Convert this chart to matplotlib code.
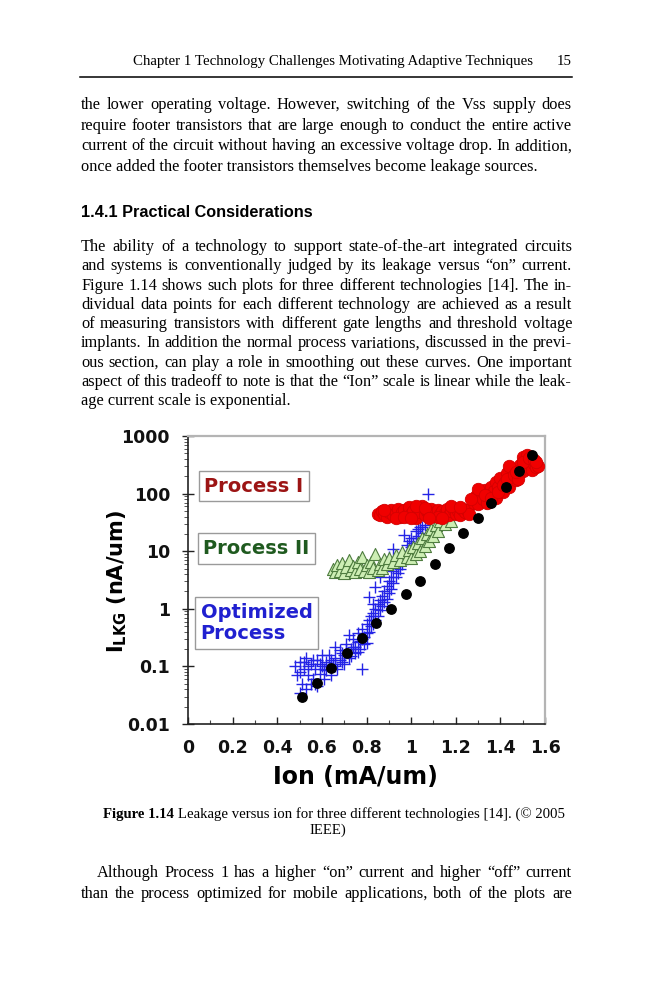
import matplotlib
matplotlib.use('Agg')
import matplotlib.pyplot as plt
from matplotlib.ticker import FixedLocator, LogLocator, MultipleLocator, NullFormatter

W, H, DPI = 659, 1000, 100

# ---------------- data ----------------
ref_ion = [0.51, 0.578, 0.642, 0.711, 0.78, 0.842, 0.91, 0.976, 1.04, 1.107,
           1.17, 1.234, 1.298, 1.36, 1.423, 1.484, 1.543]
ref_ilkg = [0.029, 0.052, 0.093, 0.169, 0.31, 0.56, 0.98, 1.81, 3.08, 6.0,
            11.2, 20.5, 38, 70, 132, 250, 468]

p1_ion = [0.85, 0.86, 0.87, 0.88, 0.89, 0.90, 0.91, 0.92, 0.93, 0.94,
          0.95, 0.96, 0.97, 0.98, 0.99, 1.00, 1.01, 1.02, 1.03, 1.04,
          1.05, 1.06, 1.07, 1.08, 1.09, 1.10, 1.11, 1.12, 1.13, 1.14,
          1.15, 1.16, 1.17, 1.18, 1.19, 1.20, 1.21, 1.22, 1.23, 1.24,
          1.25, 1.26,
          0.88, 0.93, 0.97, 1.02, 1.06, 1.12, 1.18, 1.22, 1.00, 1.08, 1.14,
          1.28, 1.29, 1.30, 1.31, 1.32, 1.33, 1.34, 1.35, 1.36, 1.37, 1.38,
          1.38, 1.39, 1.40, 1.41, 1.42, 1.43, 1.44, 1.45, 1.46, 1.47,
          1.48, 1.49, 1.50, 1.51, 1.52, 1.53, 1.54, 1.55, 1.56, 1.57,
          1.50, 1.52,
          1.27, 1.30, 1.33, 1.36, 1.39, 1.41, 1.43, 1.44, 1.46, 1.48,
          1.49, 1.50, 1.53, 1.55, 1.56, 1.47]
p1_ilkg = [45, 42, 50, 44, 40, 48, 52, 43, 46, 55,
           40, 47, 52, 42, 58, 45, 50, 38, 55, 47,
           62, 43, 50, 45, 54, 41, 48, 52, 44, 50,
           46, 55, 43, 49, 52, 45, 50, 42, 55, 47,
           52, 44,
           52, 38, 40, 60, 57, 40, 60, 58, 37, 38, 38,
           70, 90, 65, 100, 80, 115, 70, 95, 130, 110, 160,
           85, 130, 190, 105, 160, 230, 130, 200, 260, 170,
           220, 320, 250, 400, 300, 360, 260, 330, 290, 300,
           440, 460,
           80, 120, 95, 85, 105, 140, 180, 300, 210, 180,
           260, 360, 420, 380, 350, 240]

p2_ion = [0.65, 0.66, 0.67, 0.68, 0.69, 0.70, 0.71, 0.72, 0.73, 0.74,
          0.75, 0.76, 0.77, 0.78, 0.79, 0.80, 0.81, 0.82, 0.83, 0.84,
          0.85, 0.86, 0.87, 0.88,
          0.89, 0.90, 0.92, 0.93, 0.95, 0.96, 0.98, 0.99, 1.00, 1.01,
          1.02, 1.03, 1.04, 1.05, 1.06, 1.07, 1.08, 1.09, 1.10, 1.11,
          1.12, 1.13, 1.15, 1.16, 1.18, 1.14]
p2_ilkg = [5.0, 4.4, 5.8, 4.6, 6.2, 4.2, 5.3, 7.0, 4.7, 5.6,
           4.3, 6.4, 5.0, 7.8, 4.5, 5.7, 4.3, 6.6, 5.1, 8.8,
           4.7, 5.9, 5.2, 7.2,
           6.0, 7.5, 6.5, 8.5, 7.0, 9.5, 8.0, 10.5, 7.5, 12,
           9.0, 14, 10, 17, 12.5, 20, 15, 24, 18, 28,
           22, 34, 30, 42, 33, 46]

p3_ion = [0.48, 0.49, 0.50, 0.51, 0.52, 0.53, 0.53, 0.54, 0.55, 0.56,
          0.57, 0.58, 0.58, 0.59, 0.60, 0.61, 0.62, 0.62, 0.63, 0.64,
          0.65, 0.66, 0.67, 0.68, 0.69, 0.70, 0.71, 0.72, 0.73, 0.74,
          0.75, 0.76, 0.77, 0.78, 0.78, 0.79, 0.80, 0.81, 0.82, 0.83,
          0.84, 0.85, 0.86, 0.83, 0.87, 0.81, 0.88, 0.84, 0.89, 0.90,
          0.86, 0.91, 0.92, 0.88, 0.93, 0.94, 0.90, 0.95, 0.96, 0.92,
          0.97, 0.98, 0.99, 1.00, 0.97, 1.01, 1.02, 1.03, 1.04, 1.05,
          1.06, 1.076, 0.50, 0.55, 0.72, 0.76, 0.80, 0.60, 0.66,
          0.50, 0.52, 0.54, 0.56, 0.57, 0.59, 0.61, 0.63, 0.64, 0.66,
          0.68, 0.69, 0.70, 0.71, 0.73, 0.74, 0.75, 0.76, 0.77, 0.78,
          0.79, 0.80, 0.81, 0.82, 0.83, 0.84, 0.85, 0.86, 0.87, 0.88,
          0.89, 0.90, 0.91, 0.92, 0.93, 0.94, 0.95, 0.96, 0.98, 0.99,
          1.00, 1.02, 1.03, 1.05]
p3_ilkg = [0.10, 0.07, 0.12, 0.05, 0.09, 0.14, 0.04, 0.07, 0.11, 0.06,
           0.09, 0.13, 0.045, 0.075, 0.10, 0.06, 0.12, 0.085, 0.16, 0.07,
           0.11, 0.14, 0.09, 0.19, 0.12, 0.16, 0.24, 0.14, 0.20, 0.30,
           0.22, 0.38, 0.28, 0.45, 0.09, 0.33, 0.55, 0.40, 0.75, 0.55,
           1.0, 0.75, 1.4, 1.2, 1.1, 1.6, 2.0, 2.4, 1.5, 3.0,
           3.5, 2.2, 4.5, 5.0, 3.5, 6.5, 8.0, 5.0, 9.0, 11,
           7.0, 13, 10, 17, 19, 14, 22, 18, 26, 21,
           28, 100, 0.035, 0.05, 0.35, 0.18, 0.25, 0.16, 0.22,
           0.08, 0.12, 0.10, 0.13, 0.05, 0.11, 0.09, 0.10, 0.13, 0.10,
           0.13, 0.17, 0.11, 0.19, 0.15, 0.22, 0.17, 0.26, 0.20, 0.30,
           0.24, 0.38, 0.65, 0.50, 0.85, 0.65, 1.2, 0.95, 1.7, 1.3,
           2.5, 1.9, 3.5, 2.8, 5.5, 4.2, 8.0, 6.0, 9.0, 15,
           12, 17, 24, 26]

x_ticks = [0, 0.2, 0.4, 0.6, 0.8, 1.0, 1.2, 1.4, 1.6]
x_tick_labels = ['0', '0.2', '0.4', '0.6', '0.8', '1', '1.2', '1.4', '1.6']
y_ticks = [0.01, 0.1, 1, 10, 100, 1000]
y_tick_labels = ['0.01', '0.1', '1', '10', '100', '1000']

header_text = 'Chapter 1 Technology Challenges Motivating Adaptive Techniques'
page_number = '15'
para1 = ['the lower operating voltage. However, switching of the Vss supply does',
         'require footer transistors that are large enough to conduct the entire active',
         'current of the circuit without having an excessive voltage drop. In addition,',
         'once added the footer transistors themselves become leakage sources.']
heading = '1.4.1 Practical Considerations'
para2 = ['The ability of a technology to support state-of-the-art integrated circuits',
         'and systems is conventionally judged by its leakage versus \u201con\u201d current.',
         'Figure 1.14 shows such plots for three different technologies [14]. The in-',
         'dividual data points for each different technology are achieved as a result',
         'of measuring transistors with different gate lengths and threshold voltage',
         'implants. In addition the normal process variations, discussed in the previ-',
         'ous section, can play a role in smoothing out these curves. One important',
         'aspect of this tradeoff to note is that the \u201cIon\u201d scale is linear while the leak-',
         'age current scale is exponential.']
caption_bold = 'Figure 1.14'
caption_rest = 'Leakage versus ion for three different technologies [14]. (\u00a9 2005'
caption_line2 = 'IEEE)'
para3 = ['Although Process 1 has a higher \u201con\u201d current and higher \u201coff\u201d current',
         'than the process optimized for mobile applications, both of the plots are']

# ---------------- figure ----------------
fig = plt.figure(figsize=(W / DPI, H / DPI), dpi=DPI)
fig.patch.set_facecolor('white')
R = fig.canvas.get_renderer()

SERIF = ['Liberation Serif', 'DejaVu Serif']
SANS = ['Liberation Sans', 'DejaVu Sans']


def fx(px):
    return px / W


def fy(py):
    return 1 - py / H


def text_w(s, fs, family, weight='normal'):
    t = fig.text(0, 0, s, fontsize=fs, family=family, weight=weight)
    w = t.get_window_extent(renderer=R).width
    t.remove()
    return w


L_MARG, R_MARG = 81, 572
FS_BODY = 11.8
MIN_GAP = 2.0


def place_line(s, y_base, x0=L_MARG, x1=R_MARG, justify=True):
    fs = FS_BODY
    if not justify:
        fig.text(fx(x0), fy(y_base), s, fontsize=fs, family=SERIF,
                 ha='left', va='baseline')
        return
    words = s.split(' ')
    while True:
        ws = [text_w(w, fs, SERIF) for w in words]
        gap = (x1 - x0 - sum(ws)) / (len(words) - 1)
        if gap >= MIN_GAP or fs < 8:
            break
        fs -= 0.1
    x = x0
    for w, wd in zip(words, ws):
        fig.text(fx(x), fy(y_base), w, fontsize=fs, family=SERIF,
                 ha='left', va='baseline')
        x += wd + gap


# header
fs_head = 10 * 400 / text_w(header_text, 10, SERIF)
fig.text(fx(533), fy(65), header_text, fontsize=fs_head, family=SERIF,
         ha='right', va='baseline')
fig.text(fx(R_MARG), fy(65), page_number, fontsize=fs_head, family=SERIF,
         ha='right', va='baseline')
fig.add_artist(plt.Line2D([fx(80), fx(R_MARG)], [fy(77), fy(77)],
                          color='black', lw=1.1))

# paragraph 1
for i, s in enumerate(para1):
    place_line(s, 109 + 20.6 * i, justify=(i < len(para1) - 1))

# heading
fs_h = 10 * 231 / text_w(heading, 10, SANS, 'bold')
fig.text(fx(L_MARG), fy(217), heading, fontsize=fs_h, family=SANS,
         weight='bold', ha='left', va='baseline')

# paragraph 2
for i, s in enumerate(para2):
    place_line(s, 251 + 19.3 * i, justify=(i < len(para2) - 1))

# caption
cap_x0, cap_x1 = 103, 563
wb10 = text_w(caption_bold, 10, SERIF, 'bold')
wr10 = text_w(caption_rest, 10, SERIF)
sp10 = 10 * DPI / 72 * 0.25
fs_cap = 10 * (cap_x1 - cap_x0) / (wb10 + wr10 + sp10)
wb = text_w(caption_bold, fs_cap, SERIF, 'bold')
sp = fs_cap * DPI / 72 * 0.25
fig.text(fx(cap_x0), fy(818), caption_bold, fontsize=fs_cap, family=SERIF,
         weight='bold', ha='left', va='baseline')
fig.text(fx(cap_x0 + wb + sp), fy(818), caption_rest, fontsize=fs_cap,
         family=SERIF, ha='left', va='baseline')
fig.text(fx(328), fy(834), caption_line2, fontsize=fs_cap, family=SERIF,
         ha='center', va='baseline')

# paragraph 3
place_line(para3[0], 877, x0=97)
place_line(para3[1], 898)

# ---------------- chart ----------------
ax_l, ax_r, ax_t, ax_b = 188, 545, 436, 724
ax = fig.add_axes([fx(ax_l), fy(ax_b), (ax_r - ax_l) / W, (ax_b - ax_t) / H])
ax.set_facecolor('white')

ax.scatter(p3_ion, p3_ilkg, marker='+', s=85, c='#2424e6', linewidths=1.0,
           zorder=2)
ax.scatter(p2_ion, p2_ilkg, marker='^', s=75, facecolor='#cdeeb4',
           edgecolor='#4f7d40', linewidths=0.8, zorder=3)
ax.scatter(p1_ion, p1_ilkg, marker='o', s=80, facecolor='#f00000',
           edgecolor='#d40000', linewidths=0.6, zorder=4)
ax.scatter(ref_ion, ref_ilkg, marker='o', s=46, c='black', zorder=5)

ax.set_yscale('log')
ax.set_xlim(0, 1.6)
ax.set_ylim(0.01, 1000)

ax.yaxis.set_major_locator(FixedLocator(y_ticks))
ax.set_yticklabels(y_tick_labels)
ax.yaxis.set_minor_locator(LogLocator(base=10, subs=[2, 3, 4, 5, 6, 7, 8, 9]))
ax.yaxis.set_minor_formatter(NullFormatter())
ax.xaxis.set_major_locator(FixedLocator(x_ticks))
ax.set_xticklabels(x_tick_labels)
ax.xaxis.set_minor_locator(MultipleLocator(0.1))

for lab in ax.get_xticklabels() + ax.get_yticklabels():
    lab.set_fontfamily('DejaVu Sans')
    lab.set_fontweight('bold')
    lab.set_fontsize(12.5)
    lab.set_color('#111111')

ax.tick_params(axis='y', which='major', direction='inout', length=8,
               width=1, pad=9, color='#222222')
ax.tick_params(axis='y', which='minor', direction='out', length=3,
               width=0.7, color='#555555')
ax.tick_params(axis='x', which='major', direction='in', length=5, width=1,
               pad=11, color='#222222')
ax.tick_params(axis='x', which='minor', direction='in', length=3,
               width=0.8, color='#444444')

for side in ('left', 'bottom'):
    ax.spines[side].set_color('#222222')
    ax.spines[side].set_linewidth(1.2)
for side in ('top', 'right'):
    ax.spines[side].set_color('#b4b4b4')
    ax.spines[side].set_linewidth(1.6)

ax.set_xlabel('Ion (mA/um)', fontsize=17, fontweight='bold',
              family='DejaVu Sans', va='center')
ax.xaxis.set_label_coords((355 - ax_l) / (ax_r - ax_l), (ax_b - 777) / (ax_b - ax_t))
ax.set_ylabel('I$_{\\mathbf{LKG}}$ (nA/um)', fontsize=15, fontweight='bold',
              family='DejaVu Sans', va='center', ha='center')
ax.yaxis.set_label_coords((117 - ax_l) / (ax_r - ax_l), (ax_b - 581) / (ax_b - ax_t))


def ax_xy(px, py):
    return (px - ax_l) / (ax_r - ax_l), (ax_b - py) / (ax_b - ax_t)


box_kw = dict(boxstyle='square,pad=0.3', facecolor='white',
              edgecolor='#9a9a9a', linewidth=1.0)
ax.text(*ax_xy(254, 486), 'Process I', transform=ax.transAxes,
        fontsize=14, fontweight='bold', family='DejaVu Sans',
        color='#9c1414', ha='center', va='center', bbox=box_kw, zorder=6)
ax.text(*ax_xy(256.5, 548.5), 'Process II', transform=ax.transAxes,
        fontsize=14, fontweight='bold', family='DejaVu Sans',
        color='#1f5a1f', ha='center', va='center', bbox=box_kw, zorder=6)
ax.text(*ax_xy(256.5, 623), 'Optimized\nProcess', transform=ax.transAxes,
        fontsize=14, fontweight='bold', family='DejaVu Sans',
        color='#2020d0', ha='center', va='center', multialignment='left',
        linespacing=1.1, bbox=box_kw, zorder=6)

fig.savefig('out.png', dpi=DPI, facecolor='white')
